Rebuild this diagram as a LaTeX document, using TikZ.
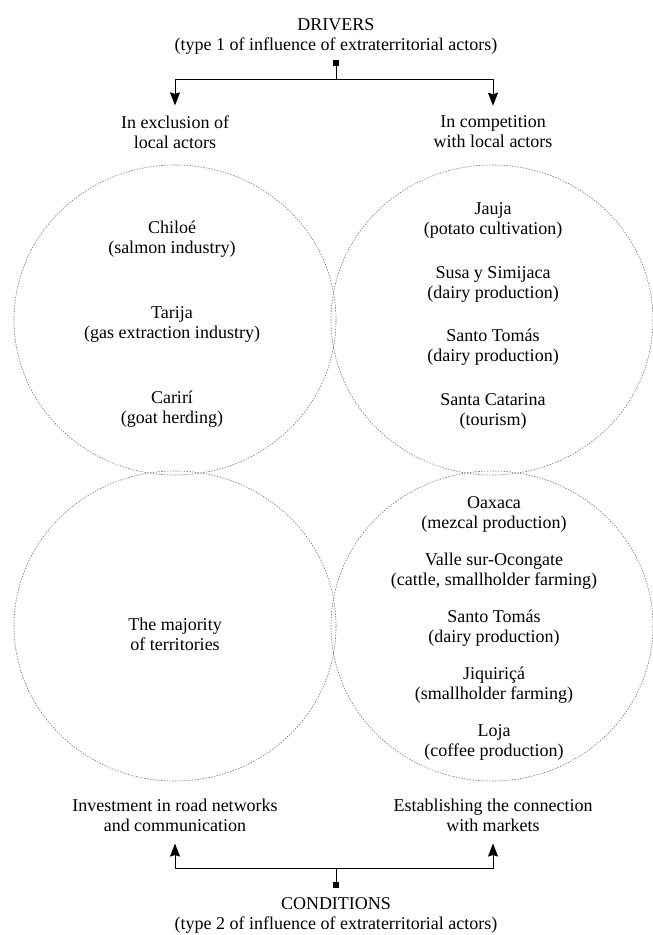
\documentclass[tikz,border=0pt]{standalone}
\usepackage{fontspec}
\setmainfont{Liberation Serif}
\usetikzlibrary{arrows.meta}
\tikzstyle{sheet} = [x = 1pt, y = -1pt]
\tikzstyle{zoneLine} = [color=black!55, line width=.6pt, dash pattern=on 1.4pt off 1.4pt]
\tikzstyle{caseText} = [font=\fontsize{18}{20}\selectfont, align=center, inner sep=0pt]
\tikzstyle{linkArrow} = [line width=.9pt, {Square[length=6pt, width=6pt]}-{Stealth[length=13pt, width=10pt, inset=1.5pt]}]
\newcommand{\caseZone}[2]{\draw [zoneLine] (#1,#2) ellipse [x radius=161pt, y radius=155pt];}

\begin{document}
\begin{tikzpicture}[sheet]
  \useasboundingbox (0,0) rectangle (653,935);

  % the four zones
  \caseZone{175}{320}
  \caseZone{492}{320}
  \caseZone{175}{626}
  \caseZone{492}{626}

  % drivers
  \node [caseText] (drivers) at (336,36) {DRIVERS\\(type 1 of influence of extraterritorial actors)};
  \node [caseText] (exclusion) at (175,132) {In exclusion of\\local actors};
  \node [caseText] (competition) at (493,132) {In competition\\with local actors};
  \coordinate (driversTap) at (336,60);
  \coordinate (driversBar) at (336,79);
  \draw [linkArrow] (driversTap) -- (driversBar) -| ([yshift=10pt]exclusion.north);
  \draw [linkArrow] (driversTap) -- (driversBar) -| ([yshift=10pt]competition.north);

  % territories
  \node [caseText] (exclusionCases) at (172,324) {Chiloé\\(salmon industry)\\[45pt]Tarija\\(gas extraction industry)\\[45pt]Carirí\\(goat herding)};
  \node [caseText] (competitionCases) at (493,316) {Jauja\\(potato cultivation)\\[23.5pt]Susa y Simijaca\\(dairy production)\\[23.5pt]Santo Tomás\\(dairy production)\\[23.5pt]Santa Catarina\\(tourism)};
  \node [caseText] (majority) at (175,634) {The majority\\of territories};
  \node [caseText] (connectionCases) at (494,628) {Oaxaca\\(mezcal production)\\[17pt]Valle sur-Ocongate\\(cattle, smallholder farming)\\[17pt]Santo Tomás\\(dairy production)\\[17pt]Jiquiriçá\\(smallholder farming)\\[17pt]Loja\\(coffee production)};

  % conditions
  \node [caseText] (investment) at (175,815) {Investment in road networks\\and communication};
  \node [caseText] (markets) at (493,815) {Establishing the connection\\with markets};
  \node [caseText] (conditions) at (336,915) {CONDITIONS\\(type 2 of influence of extraterritorial actors)};
  \coordinate (conditionsTap) at (336,888);
  \coordinate (conditionsBar) at (336,868);
  \draw [linkArrow] (conditionsTap) -- (conditionsBar) -| ([yshift=-12pt]investment.south);
  \draw [linkArrow] (conditionsTap) -- (conditionsBar) -| ([yshift=-12pt]markets.south);
\end{tikzpicture}
\end{document}
